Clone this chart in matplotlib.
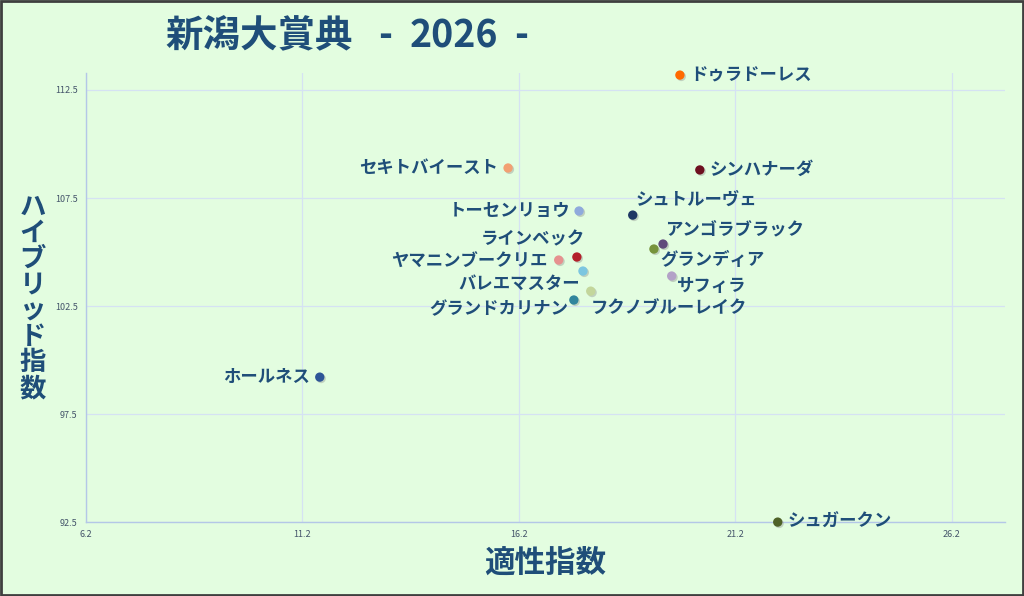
import matplotlib
matplotlib.use('Agg')
import matplotlib.pyplot as plt
import matplotlib.patheffects as pe

plt.rcParams['font.family'] = ['Noto Sans CJK JP', 'DejaVu Sans']

# データ
horses = ['ドゥラドーレス', 'セキトバイースト', 'シンハナーダ', 'トーセンリョウ', 'シュトルーヴェ',
          'アンゴラブラック', 'グランディア', 'ラインベック', 'ヤマニンブークリエ', 'バレエマスター',
          'サフィラ', 'フクノブルーレイク', 'グランドカリナン', 'ホールネス', 'シュガークン']
tekisei = [19.92, 15.95, 20.38, 17.59, 18.83,
           19.53, 19.32, 17.54, 17.12, 17.68,
           19.73, 17.86, 17.47, 11.60, 22.18]
hybrid = [113.19, 108.89, 108.80, 106.90, 106.71,
          105.37, 105.14, 104.77, 104.63, 104.12,
          103.89, 103.19, 102.78, 99.21, 92.50]
dot_colors = ['#ff6a00', '#f2a072', '#6e1020', '#8faadc', '#1f3864',
              '#604a7b', '#77933c', '#b3202a', '#e6918f', '#7cc6e0',
              '#b3a2c7', '#c3d69b', '#31859c', '#2e5597', '#4f6228']

x_ticks = [6.2, 11.2, 16.2, 21.2, 26.2]
y_ticks = [92.5, 97.5, 102.5, 107.5, 112.5]

# ラベルの置き方（ピクセル単位のずらし, 揃え）
label_pos = {
    'ドゥラドーレス': (10, 0, 'left'),
    'セキトバイースト': (-10, 0, 'right'),
    'シンハナーダ': (10, 0, 'left'),
    'トーセンリョウ': (-9, 0, 'right'),
    'シュトルーヴェ': (3, 15, 'left'),
    'アンゴラブラック': (2, 14, 'left'),
    'グランディア': (6, -11, 'left'),
    'ラインベック': (8, 18, 'right'),
    'ヤマニンブークリエ': (-11, -2, 'right'),
    'バレエマスター': (-3, -13, 'right'),
    'サフィラ': (5, -10, 'left'),
    'フクノブルーレイク': (0, -17, 'left'),
    'グランドカリナン': (-6, -9, 'right'),
    'ホールネス': (-10, 0, 'right'),
    'シュガークン': (10, 0, 'left'),
}

text_color = '#1f4e79'
bg = '#e3fde0'
grid_color = '#d5e2f3'

fig = plt.figure(figsize=(10.24, 5.96), dpi=100, facecolor=bg)
ax = fig.add_axes([0.084, 0.124, 0.897, 0.754], facecolor=bg)

ax.set_xlim(6.2, 27.42)
ax.set_ylim(92.5, 113.3)
ax.set_xticks(x_ticks)
ax.set_yticks(y_ticks)
ax.set_xticklabels([f'{v:.1f}' for v in x_ticks])
ax.set_yticklabels([f'{v:.1f}' for v in y_ticks])
ax.tick_params(length=0, labelsize=6.5, labelcolor='#44546a', pad=6)
ax.grid(True, color=grid_color, linewidth=0.9)
ax.set_axisbelow(True)
for s in ['top', 'right']:
    ax.spines[s].set_visible(False)
for s in ['left', 'bottom']:
    ax.spines[s].set_color('#b4c7e7')
    ax.spines[s].set_linewidth(1.0)

sc = ax.scatter(tekisei, hybrid, s=45, c=dot_colors, zorder=3, clip_on=False,
                linewidths=0)
sc.set_path_effects([pe.SimplePatchShadow(offset=(1, -1), shadow_rgbFace='#808080', alpha=0.35),
                     pe.Normal()])

for name, xv, yv in zip(horses, tekisei, hybrid):
    dx, dy, ha = label_pos[name]
    ax.annotate(name, (xv, yv), xytext=(dx, dy), textcoords='offset pixels',
                ha=ha, va='center', fontsize=12.5, fontweight='bold',
                color=text_color, zorder=4, annotation_clip=False)

# タイトル（部品ごとに配置）
fig.text(165 / 1024, 0.94, '新潟大賞典', fontsize=27, fontweight='bold',
         color=text_color, ha='left', va='center')
fig.text(385 / 1024, 0.94, '-', fontsize=27, fontweight='bold',
         color=text_color, ha='center', va='center')
fig.text(454 / 1024, 0.94, '2026', fontsize=27, fontweight='bold',
         color=text_color, ha='center', va='center')
fig.text(521 / 1024, 0.94, '-', fontsize=27, fontweight='bold',
         color=text_color, ha='center', va='center')

fig.text(0.532, 0.055, '適性指数', fontsize=22, fontweight='bold',
         color=text_color, ha='center', va='center')
fig.text(0.032, 0.50, '\n'.join('ハイブリッド指数'), fontsize=19, fontweight='bold',
         color=text_color, ha='center', va='center', linespacing=0.95)

# 外枠
fig.patches.append(plt.Rectangle((0.001, 0.002), 0.998, 0.996, transform=fig.transFigure,
                                 fill=False, edgecolor='#3f3f3f', linewidth=2))

fig.savefig('out.png', dpi=100, facecolor=bg)
